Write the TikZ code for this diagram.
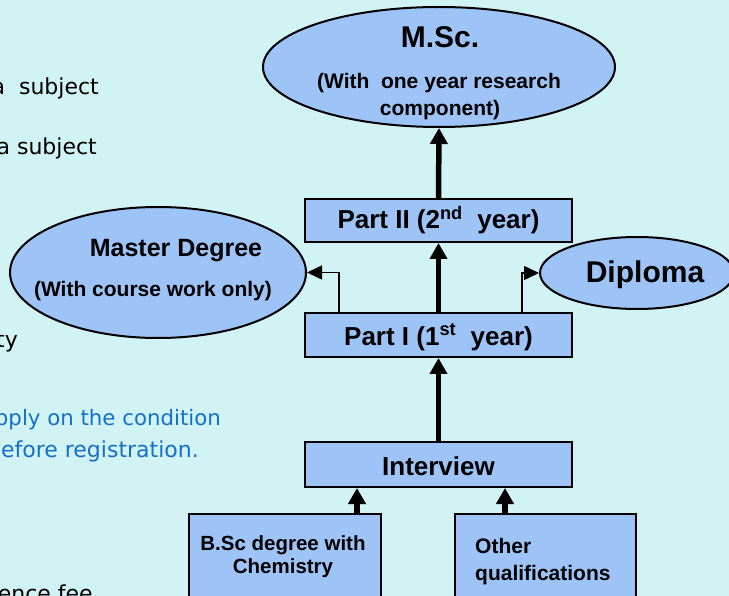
\documentclass[tikz,border=0pt]{standalone}
\usepackage{fontspec}
\setmainfont{Liberation Sans}
\newfontfamily\handfont{DejaVu Sans}
\usetikzlibrary{shapes.geometric,arrows.meta}
\definecolor{bgcol}{RGB}{210,243,244}
\definecolor{boxcol}{RGB}{157,195,247}
\definecolor{bluetext}{RGB}{20,112,200}
\begin{document}
\begin{tikzpicture}[x=1pt,y=-1pt,
 boxnode/.style={draw=black,line width=2pt,fill=boxcol,rectangle,inner sep=0pt,font=\bfseries\fontsize{26}{30}\selectfont},
 ovalnode/.style={draw=black,line width=2pt,fill=boxcol,ellipse,inner sep=0pt},
 lbl/.style={inner sep=0pt,anchor=base,font=\bfseries\fontsize{21}{24}\selectfont},
 bigarrow/.style={line width=5.5pt,-{Triangle[width=17pt,length=16pt]}},
 smallarrow/.style={line width=1.5pt,-{Triangle[width=14pt,length=15pt]}},
 side/.style={inner sep=0pt,anchor=base east,font=\handfont\fontsize{22}{26}\selectfont}]
\path[use as bounding box, fill=bgcol] (0,0) rectangle (729,596);
\begin{scope}
\clip (0,0) rectangle (729,596);
% side texts
\node[side] (s1) at (99,95) {a\ \ subject};
\node[side] (s2) at (97,155) {a subject};
\node[side] (s3) at (18,348) {ty};
\node[side,text=bluetext,font=\handfont\fontsize{21.3}{26}\selectfont] (s4) at (221,425) {pply on the condition};
\node[side,text=bluetext] (s5) at (199,457) {efore registration.};
\node[side] (s6) at (93,601) {ence fee};
% ellipses
\node[ovalnode,minimum width=352pt,minimum height=120pt] (msc) at (439,67) {};
\node[ovalnode,minimum width=296pt,minimum height=131pt] (master) at (158,272.5) {};
\node[ovalnode,minimum width=194pt,minimum height=72pt] (diploma) at (637,273) {};
% boxes
\node[boxnode,minimum width=267pt,text height=30pt,text depth=13pt] (part2) at (438.5,220.5) {Part II (2\textsuperscript{nd}\ \ year)};
\node[boxnode,minimum width=267pt,text height=32pt,text depth=12pt] (part1) at (438.5,335) {Part I (1\textsuperscript{st}\ \ year)};
\node[boxnode,minimum width=267pt,text height=33pt,text depth=12pt] (interview) at (438.5,464.5) {Interview};
\node[boxnode,minimum width=192pt,minimum height=110pt] (bsc) at (285,569) {};
\node[boxnode,minimum width=181pt,minimum height=110pt] (other) at (545.5,569) {};
% labels
\node[lbl,font=\bfseries\fontsize{30}{34}\selectfont] (msct) at (440,48) {M.Sc.};
\node[lbl] (msc1) at (439,89) {(With\ \ one year research};
\node[lbl] (msc2) at (440,116) {component)};
\node[lbl,font=\bfseries\fontsize{25}{30}\selectfont] (mt1) at (176,257) {Master Degree};
\node[lbl] (mt2) at (153,297) {(With course work only)};
\node[lbl,font=\bfseries\fontsize{30}{34}\selectfont] (dt) at (645,283) {Diploma};
\node[lbl,font=\bfseries\fontsize{20.5}{24}\selectfont] (b1) at (283,550) {B.Sc degree with};
\node[lbl,font=\bfseries\fontsize{20.5}{24}\selectfont] (b2) at (283,573) {Chemistry};
\node[lbl,anchor=base west] (o1) at (475,553) {Other};
\node[lbl,anchor=base west] (o2) at (475,580) {qualifications};
% connectors
\draw[bigarrow] (part2.north) -- (msc.south);
\draw[bigarrow] (part1.north) -- (part2.south);
\draw[bigarrow] (interview.north) -- (part1.south);
\draw[bigarrow] ([xshift=72pt]bsc.north) -- ([xshift=72pt]bsc.north |- interview.south);
\draw[bigarrow] ([xshift=-40.5pt]other.north) -- ([xshift=-40.5pt]other.north |- interview.south);
\draw[smallarrow] ([xshift=-99.5pt]part1.north) |- (master.east);
\draw[smallarrow] ([xshift=83.5pt]part1.north) |- (diploma.west);
\end{scope}
\end{tikzpicture}
\end{document}
